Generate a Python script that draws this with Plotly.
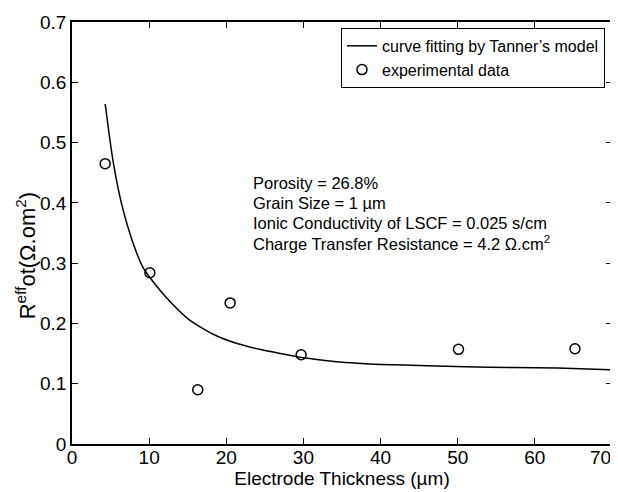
import plotly.graph_objects as go

# experimental data
exp_thickness = [4.3, 10.1, 16.3, 20.5, 29.7, 50.1, 65.2]
exp_resistance = [0.465, 0.284, 0.090, 0.234, 0.148, 0.157, 0.158]

# fitted curve
fit_thickness = [4.3, 5.3, 6.4, 7.9, 9.2, 10.9, 13.1, 15.2, 18.3, 21.3, 24.3,
                 27.0, 30.0, 34.0, 37.0, 40.0, 46.0, 51.0, 57.0, 63.0, 70.0]
fit_resistance = [0.564, 0.471, 0.400, 0.334, 0.293, 0.263, 0.231, 0.206, 0.182,
                  0.167, 0.157, 0.150, 0.143, 0.137, 0.134, 0.132, 0.130, 0.128,
                  0.127, 0.126, 0.123]

x_ticks = [0, 10, 20, 30, 40, 50, 60, 70]
x_tick_text = ["0", "10", "20", "30", "40", "50", "60", ""]
last_x_label = "70"
y_ticks = [0, 0.1, 0.2, 0.3, 0.4, 0.5, 0.6, 0.7]
y_tick_text = ["0", "0.1", "0.2", "0.3", "0.4", "0.5", "0.6", "0.7"]

note_lines = ["Porosity = 26.8%",
              "Grain Size = 1 \u00b5m",
              "Ionic Conductivity of LSCF = 0.025 s/cm",
              "Charge Transfer Resistance = 4.2 \u03a9.cm<sup>2</sup>"]
note_y = [0.618, 0.571, 0.524, 0.476]

FONT = "Liberation Sans, Arial, Helvetica, sans-serif"
TICK_SIZE = 19

fig = go.Figure()
fig.add_trace(go.Scatter(
    x=fit_thickness, y=fit_resistance, mode="lines",
    line=dict(color="black", width=1.5, shape="spline", smoothing=0.6),
    name="curve fitting by Tanner\u2019s model"))
fig.add_trace(go.Scatter(
    x=exp_thickness, y=exp_resistance, mode="markers",
    marker=dict(symbol="circle-open", size=10, color="black", line=dict(width=1.5)),
    name="experimental data"))

for txt, yy in zip(note_lines, note_y):
    fig.add_annotation(
        x=0.332, y=yy, xref="paper", yref="paper", xanchor="left", yanchor="middle",
        align="left", showarrow=False, text=txt,
        font=dict(family=FONT, size=16.5, color="black"))

# last x tick label, kept inside the window
fig.add_annotation(
    x=x_ticks[-1], y=0, xref="x", yref="paper", xanchor="right", yanchor="top",
    yshift=-1, xshift=1, showarrow=False, text=last_x_label,
    font=dict(family=FONT, size=TICK_SIZE, color="black"))

# y axis title
fig.add_annotation(
    x=-0.085, y=0.445, xref="paper", yref="paper", xanchor="center", yanchor="middle",
    textangle=-90, showarrow=False,
    text="R<sup>eff</sup>ot(\u03a9.om<sup>2</sup>)",
    font=dict(family=FONT, size=22, color="black"))

axis_common = dict(
    showline=True, linecolor="black", linewidth=1.5, mirror="ticks",
    ticks="inside", ticklen=6, tickcolor="black", tickwidth=1,
    showgrid=False, zeroline=False, ticklabeloverflow="allow",
    tickfont=dict(family=FONT, size=TICK_SIZE, color="black"))

fig.update_xaxes(range=[0, 70], tickvals=x_ticks, ticktext=x_tick_text,
                 ticklabelstandoff=-5,
                 title=dict(text="Electrode Thickness (\u00b5m)", standoff=4,
                            font=dict(family=FONT, size=19, color="black")),
                 **axis_common)
fig.update_yaxes(range=[0, 0.7], tickvals=y_ticks, ticktext=y_tick_text,
                 **axis_common)

fig.update_layout(
    width=610, height=484,
    margin=dict(l=64, r=4, t=9, b=48),
    plot_bgcolor="white", paper_bgcolor="white",
    font=dict(family=FONT, color="black"),
    legend=dict(x=0.987, y=0.986, xanchor="right", yanchor="top",
                bordercolor="black", borderwidth=1, bgcolor="white",
                font=dict(family=FONT, size=16, color="black"),
                tracegroupgap=0, itemwidth=30),
)

fig.write_html("out.html")
